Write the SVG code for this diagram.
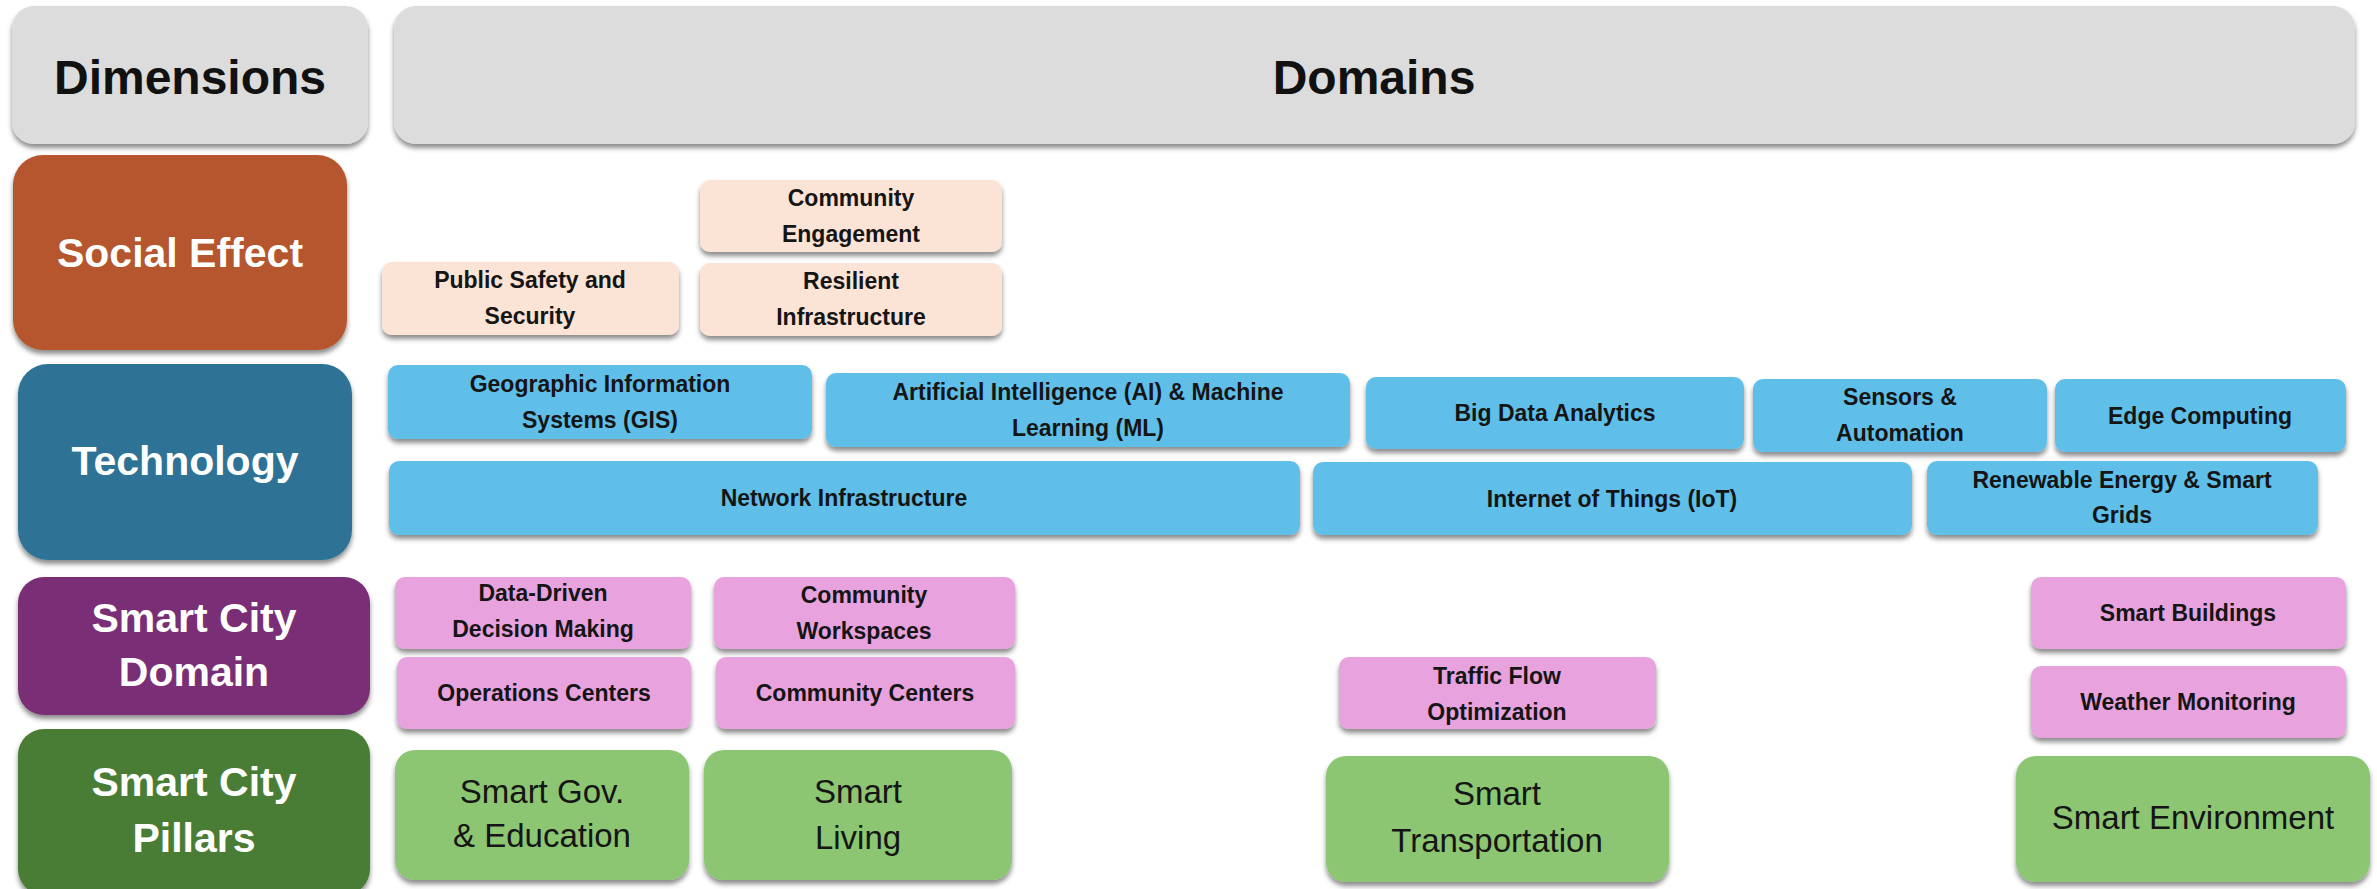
<svg xmlns="http://www.w3.org/2000/svg" width="2377" height="889" viewBox="0 0 2377 889">
<defs>
<filter id="sh" x="-5%" y="-10%" width="110%" height="130%">
<feDropShadow dx="0" dy="4" stdDeviation="2.5" flood-color="#000" flood-opacity="0.45"/>
</filter>
</defs>
<style>
.hdr{fill:#DCDCDC;filter:url(#sh)}
.lbl{filter:url(#sh)}
.soc{fill:#FBE3D6;filter:url(#sh)}
.tec{fill:#5EBFE9;filter:url(#sh)}
.dom{fill:#E8A2DD;filter:url(#sh)}
.pil{fill:#8CC672;filter:url(#sh)}
text{font-family:"Liberation Sans",Arial,sans-serif;text-anchor:middle}
.ht{font-size:48px;font-weight:bold;fill:#111}
.lt{font-size:41px;font-weight:bold;fill:#fff}
.it{font-size:23px;font-weight:bold;fill:#151515}
.pt{font-size:33px;fill:#151515}
</style>
<rect width="2377" height="889" fill="#fff"/>

<g id="hdr-dimensions"><rect class="hdr" x="12" y="6" width="356" height="138" rx="22"/><text class="ht" x="190" y="94">Dimensions</text></g>
<g id="hdr-domains"><rect class="hdr" x="394" y="6" width="1961" height="138" rx="22"/><text class="ht" x="1374" y="94">Domains</text></g>

<g id="lbl-social"><rect class="lbl" fill="#B5562D" x="13" y="155" width="334" height="195" rx="30"/><text class="lt" x="180" y="267">Social Effect</text></g>
<g id="lbl-tech"><rect class="lbl" fill="#2D7396" x="18" y="364" width="334" height="196" rx="30"/><text class="lt" x="185" y="475">Technology</text></g>
<g id="lbl-domain"><rect class="lbl" fill="#7A2E74" x="18" y="577" width="352" height="138" rx="26"/><text class="lt" x="194" y="632">Smart City</text><text class="lt" x="194" y="686">Domain</text></g>
<g id="lbl-pillars"><rect class="lbl" fill="#4A7D34" x="18" y="729" width="352" height="166" rx="26"/><text class="lt" x="194" y="796">Smart City</text><text class="lt" x="194" y="852">Pillars</text></g>

<g id="soc-public"><rect class="soc" x="382" y="262" width="297" height="73" rx="10"/><text class="it" x="530" y="288">Public Safety and</text><text class="it" x="530" y="324">Security</text></g>
<g id="soc-community"><rect class="soc" x="700" y="180" width="302" height="72" rx="10"/><text class="it" x="851" y="206">Community</text><text class="it" x="851" y="242">Engagement</text></g>
<g id="soc-resilient"><rect class="soc" x="700" y="263" width="302" height="73" rx="10"/><text class="it" x="851" y="289">Resilient</text><text class="it" x="851" y="325">Infrastructure</text></g>

<g id="tec-gis"><rect class="tec" x="388" y="365" width="424" height="74" rx="10"/><text class="it" x="600" y="392">Geographic Information</text><text class="it" x="600" y="428">Systems (GIS)</text></g>
<g id="tec-ai"><rect class="tec" x="826" y="373" width="524" height="74" rx="10"/><text class="it" x="1088" y="400">Artificial Intelligence (AI) &amp; Machine</text><text class="it" x="1088" y="436">Learning (ML)</text></g>
<g id="tec-bigdata"><rect class="tec" x="1366" y="377" width="378" height="72" rx="10"/><text class="it" x="1555" y="421">Big Data Analytics</text></g>
<g id="tec-sensors"><rect class="tec" x="1753" y="379" width="294" height="73" rx="10"/><text class="it" x="1900" y="405">Sensors &amp;</text><text class="it" x="1900" y="441">Automation</text></g>
<g id="tec-edge"><rect class="tec" x="2055" y="379" width="291" height="73" rx="10"/><text class="it" x="2200" y="424">Edge Computing</text></g>
<g id="tec-network"><rect class="tec" x="389" y="461" width="911" height="74" rx="10"/><text class="it" x="844" y="506">Network Infrastructure</text></g>
<g id="tec-iot"><rect class="tec" x="1313" y="462" width="599" height="73" rx="10"/><text class="it" x="1612" y="507">Internet of Things (IoT)</text></g>
<g id="tec-renewable"><rect class="tec" x="1927" y="461" width="391" height="74" rx="10"/><text class="it" x="2122" y="488">Renewable Energy &amp; Smart</text><text class="it" x="2122" y="523">Grids</text></g>

<g id="dom-datadriven"><rect class="dom" x="395" y="577" width="296" height="72" rx="10"/><text class="it" x="543" y="601">Data-Driven</text><text class="it" x="543" y="637">Decision Making</text></g>
<g id="dom-operations"><rect class="dom" x="397" y="657" width="294" height="72" rx="10"/><text class="it" x="544" y="701">Operations Centers</text></g>
<g id="dom-workspaces"><rect class="dom" x="714" y="577" width="301" height="72" rx="10"/><text class="it" x="864" y="603">Community</text><text class="it" x="864" y="639">Workspaces</text></g>
<g id="dom-centers"><rect class="dom" x="716" y="657" width="299" height="72" rx="10"/><text class="it" x="865" y="701">Community Centers</text></g>
<g id="dom-traffic"><rect class="dom" x="1339" y="657" width="317" height="72" rx="10"/><text class="it" x="1497" y="684">Traffic Flow</text><text class="it" x="1497" y="720">Optimization</text></g>
<g id="dom-buildings"><rect class="dom" x="2031" y="577" width="315" height="72" rx="10"/><text class="it" x="2188" y="621">Smart Buildings</text></g>
<g id="dom-weather"><rect class="dom" x="2031" y="666" width="315" height="72" rx="10"/><text class="it" x="2188" y="710">Weather Monitoring</text></g>

<g id="pil-gov"><rect class="pil" x="395" y="750" width="294" height="130" rx="20"/><text class="pt" x="542" y="803">Smart Gov.</text><text class="pt" x="542" y="847">&amp; Education</text></g>
<g id="pil-living"><rect class="pil" x="704" y="750" width="308" height="130" rx="20"/><text class="pt" x="858" y="803">Smart</text><text class="pt" x="858" y="849">Living</text></g>
<g id="pil-transport"><rect class="pil" x="1326" y="756" width="343" height="126" rx="20"/><text class="pt" x="1497" y="805">Smart</text><text class="pt" x="1497" y="852">Transportation</text></g>
<g id="pil-environment"><rect class="pil" x="2016" y="756" width="354" height="126" rx="20"/><text class="pt" x="2193" y="829">Smart Environment</text></g>

<g id="connectors"></g>
</svg>
